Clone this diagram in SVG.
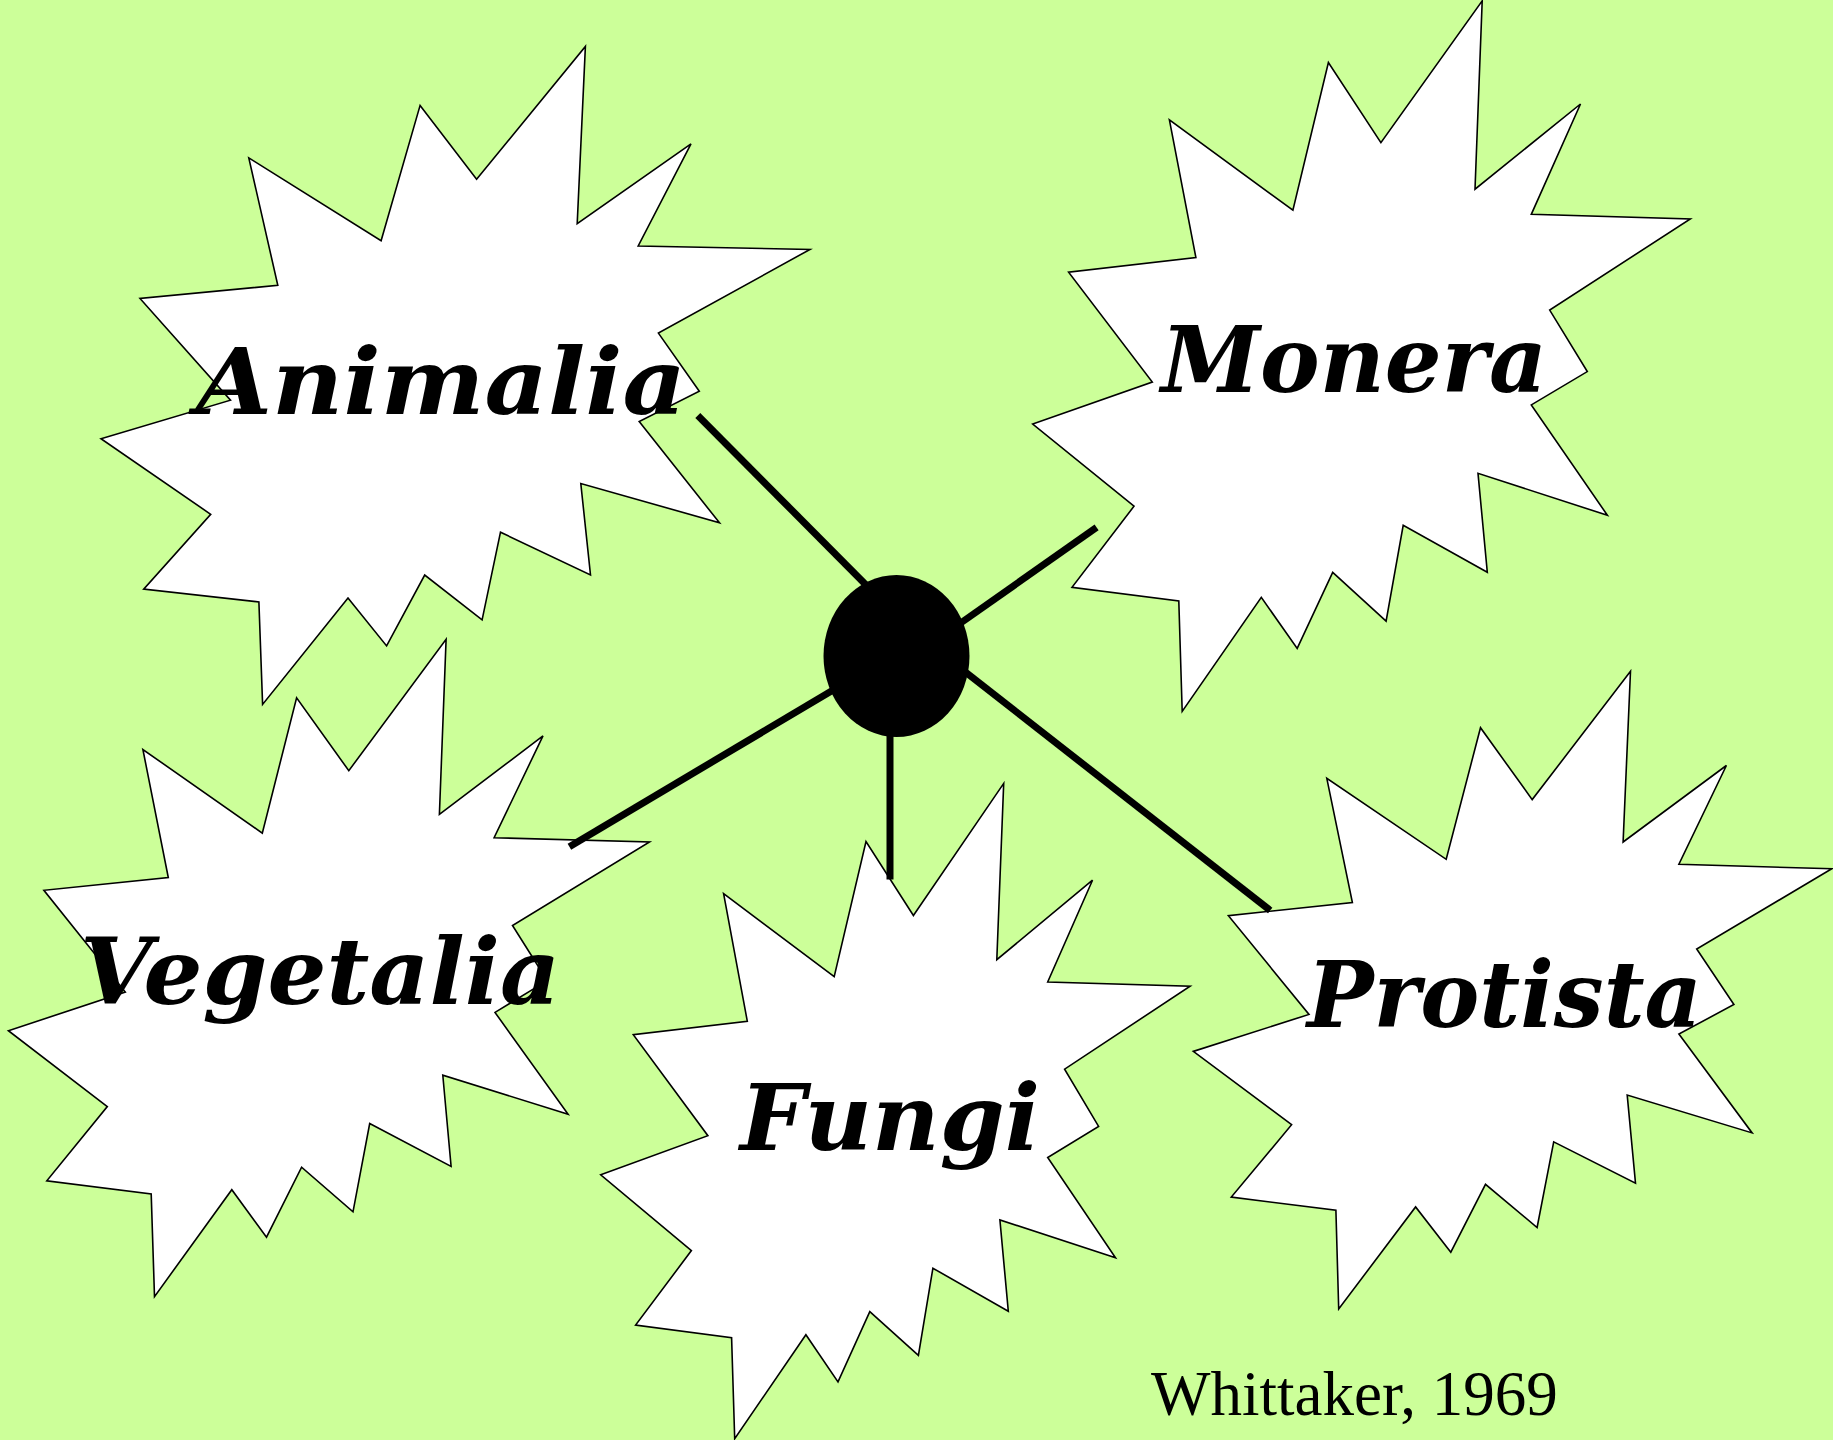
<svg xmlns="http://www.w3.org/2000/svg" width="1833" height="1440" viewBox="0 0 1833 1440">
<style>
.star{fill:#ffffff;stroke:#000000;stroke-width:1.6;stroke-linejoin:miter}
.lbl{font-family:"DejaVu Serif","Liberation Serif",serif;font-style:italic;font-weight:bold;font-size:92px;fill:#000000}
.conn{stroke:#000000;stroke-width:7;fill:none;stroke-linecap:butt}
.cite{font-family:"Liberation Serif","Times New Roman",serif;font-size:63px;fill:#000000}
</style>
<rect x="0" y="0" width="1833" height="1440" fill="#CCFF99"/>
<g id="node-animalia">
<polygon class="star" points="585.4,46.4 577.2,223.7 691.0,143.8 638.2,246.0 810.0,249.4 658.4,333.1 699.3,391.2 639.2,421.6 719.5,522.8 580.8,483.5 590.5,575.0 500.5,532.2 482.1,619.8 424.7,575.0 386.6,645.9 348.0,598.1 262.6,704.4 258.9,601.9 143.7,589.1 210.7,514.3 101.0,438.7 230.5,400.2 140.0,298.5 277.8,285.3 248.8,157.9 381.1,240.8 420.1,105.4 476.6,179.3"/>
<text class="lbl" x="196" y="414" textLength="490" lengthAdjust="spacingAndGlyphs">Animalia</text>
</g>
<g id="node-monera">
<polygon class="star" points="1482.2,0.9 1475.0,189.2 1580.5,104.0 1531.3,214.3 1690.3,218.9 1549.7,310.1 1587.3,371.6 1531.3,404.9 1607.4,515.3 1478.0,473.3 1487.3,572.3 1403.2,525.3 1386.1,621.1 1332.7,572.3 1297.2,648.4 1261.3,597.4 1182.2,711.4 1178.8,601.0 1072.0,587.3 1134.0,506.2 1032.7,424.1 1152.3,382.1 1068.6,272.2 1195.9,257.6 1169.4,119.9 1292.9,210.2 1328.4,62.5 1380.9,142.7"/>
<text class="lbl" x="1161" y="392" textLength="386" lengthAdjust="spacingAndGlyphs">Monera</text>
</g>
<g id="node-vegetalia">
<polygon class="star" points="446.1,639.2 439.4,814.4 543.0,735.9 494.1,837.7 649.5,842.0 512.5,925.5 547.2,980.6 495.0,1012.4 568.1,1114.2 442.8,1075.2 451.1,1166.4 369.7,1123.5 353.0,1211.8 301.6,1167.2 266.5,1237.2 231.8,1189.7 154.5,1296.6 151.2,1193.9 46.8,1180.8 107.3,1106.6 8.4,1030.7 125.3,992.1 43.9,890.3 168.3,877.6 142.9,749.5 262.3,833.1 296.6,697.8 348.8,770.7"/>
<text class="lbl" x="80" y="1004" textLength="480" lengthAdjust="spacingAndGlyphs">Vegetalia</text>
</g>
<g id="node-fungi">
<polygon class="star" points="1003.7,783.4 996.8,959.7 1092.5,880.2 1047.7,982.0 1190.1,986.2 1064.6,1069.2 1098.6,1126.4 1047.7,1157.5 1115.5,1257.7 999.9,1219.9 1008.3,1311.2 932.9,1268.2 918.4,1355.4 869.8,1311.6 838.0,1381.9 805.9,1334.7 734.7,1438.7 731.6,1337.7 635.6,1325.1 691.4,1250.6 600.7,1174.8 707.9,1135.7 633.3,1034.6 747.3,1021.2 723.6,893.6 834.2,976.6 866.0,841.5 913.4,915.5"/>
<text class="lbl" x="740" y="1150" textLength="300" lengthAdjust="spacingAndGlyphs">Fungi</text>
</g>
<g id="node-protista">
<polygon class="star" points="1630.5,671.3 1623.1,842.0 1726.4,765.5 1678.9,864.2 1831.8,868.8 1696.7,949.0 1733.9,1004.5 1678.9,1034.1 1752.1,1132.9 1627.2,1095.0 1635.5,1183.1 1553.7,1141.9 1537.1,1227.5 1485.5,1184.3 1450.8,1252.2 1415.6,1206.9 1338.7,1309.0 1335.9,1210.2 1231.3,1197.1 1291.6,1124.7 1193.3,1051.4 1309.0,1014.4 1228.4,915.7 1352.4,902.5 1326.8,778.3 1446.2,859.3 1480.5,727.7 1532.2,799.6"/>
<text class="lbl" x="1307" y="1027" textLength="395" lengthAdjust="spacingAndGlyphs">Protista</text>
</g>
<g id="connectors">
<line class="conn" x1="697.8" y1="415.5" x2="880" y2="599"/>
<line class="conn" x1="1096.6" y1="527.4" x2="950" y2="630.5"/>
<line class="conn" x1="569.4" y1="846.7" x2="850" y2="680"/>
<line class="conn" x1="890" y1="879.4" x2="890" y2="720"/>
<line class="conn" x1="1270.2" y1="910.4" x2="950" y2="660"/>
</g>
<g id="node-hub">
<ellipse cx="896.5" cy="656" rx="73" ry="81" fill="#000000"/>
</g>
<text class="cite" x="1151" y="1415">Whittaker, 1969</text>
</svg>
